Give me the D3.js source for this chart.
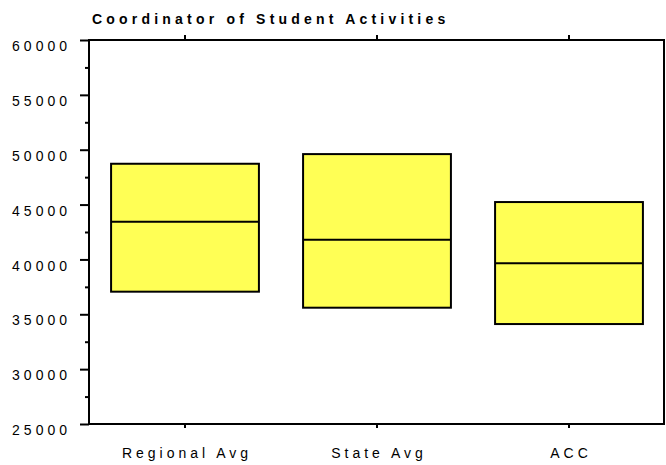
<!DOCTYPE html>
<meta charset="utf-8">
<script src="https://d3js.org/d3.v7.min.js"></script>
<style>
  body { margin: 0; background: #fff; }
  text { font-family: "Liberation Sans", Arial, sans-serif; }
</style>
<div id="chart"></div>
<script>

// data
var categories = ["Regional Avg", "State Avg", "ACC"];
var lowValues = [37060, 35600, 34110];
var medianValues = [43440, 41800, 39650];
var highValues = [48720, 49600, 45230];
var yTicks = [25000, 30000, 35000, 40000, 45000, 50000, 55000, 60000];
var yMinorTicks = [27500, 32500, 37500, 42500, 47500, 52500, 57500];

var boxes = categories.map(function(c, i) {
  return {name: c, low: lowValues[i], mid: medianValues[i], high: highValues[i]};
});

var width = 666, height = 465;
var plotLeft = 89, plotRight = 665, plotTop = 40, plotBottom = 424;

var svg = d3.select("#chart")
  .append("svg")
    .attr("width", width)
    .attr("height", height);

var x = d3.scaleBand()
    .domain(categories)
    .range([plotLeft, plotRight])
    .paddingInner(0.23)
    .paddingOuter(0.115);

var y = d3.scaleLinear()
    .domain([25000, 60000])
    .range([plotBottom, plotTop]);

// boxes
var g = svg.append("g");
g.selectAll("rect")
  .data(boxes)
  .enter()
  .append("rect")
    .attr("x", function(d) { return x(d.name); })
    .attr("y", function(d) { return y(d.high); })
    .attr("width", x.bandwidth())
    .attr("height", function(d) { return y(d.low) - y(d.high); })
    .style("fill", "#ffff55")
    .style("stroke", "#000")
    .style("stroke-width", 2);

g.selectAll("line.median")
  .data(boxes)
  .enter()
  .append("line")
    .attr("class", "median")
    .attr("x1", function(d) { return x(d.name); })
    .attr("x2", function(d) { return x(d.name) + x.bandwidth(); })
    .attr("y1", function(d) { return y(d.mid); })
    .attr("y2", function(d) { return y(d.mid); })
    .style("stroke", "#000")
    .style("stroke-width", 2);

// frame
svg.append("rect")
  .attr("x", plotLeft)
  .attr("y", plotTop)
  .attr("width", plotRight - plotLeft - 1)
  .attr("height", plotBottom - plotTop)
  .style("fill", "none")
  .style("stroke", "#000")
  .style("stroke-width", 2);

// left axis, major + minor ticks
var yAxis = svg.append("g")
  .attr("transform", "translate(" + plotLeft + ",0)")
  .call(d3.axisLeft(y).tickValues(yTicks).tickSize(9).tickPadding(9).tickFormat(d3.format("d")));
yAxis.select(".domain").remove();
yAxis.selectAll("line").style("stroke-width", 2);
yAxis.selectAll("text")
  .attr("dy", "0.76em")
  .style("font-size", "14px")
  .style("letter-spacing", "4px")
  .style("fill", "#000");

var yMinor = svg.append("g")
  .attr("transform", "translate(" + plotLeft + ",0)")
  .call(d3.axisLeft(y).tickValues(yMinorTicks).tickSize(4).tickFormat(""));
yMinor.select(".domain").remove();
yMinor.selectAll("line").style("stroke-width", 2);

// bottom axis
var xAxis = svg.append("g")
  .attr("transform", "translate(0," + plotBottom + ")")
  .call(d3.axisBottom(x).tickSize(4).tickPadding(20));
xAxis.select(".domain").remove();
xAxis.selectAll("line").style("stroke-width", 2);
xAxis.selectAll("text")
  .attr("dx", "2px")
  .style("font-size", "14px")
  .style("letter-spacing", "4px")
  .style("fill", "#000");

// top ticks, no labels
var xTop = svg.append("g")
  .attr("transform", "translate(0," + plotTop + ")")
  .call(d3.axisTop(x).tickSize(5).tickFormat(""));
xTop.select(".domain").remove();
xTop.selectAll("line").style("stroke-width", 2);

// title
svg.append("text")
  .attr("x", 92)
  .attr("y", 23.5)
  .text("Coordinator of Student Activities")
  .style("font-size", "14px")
  .style("font-weight", "bold")
  .style("letter-spacing", "4.2px");

</script>
